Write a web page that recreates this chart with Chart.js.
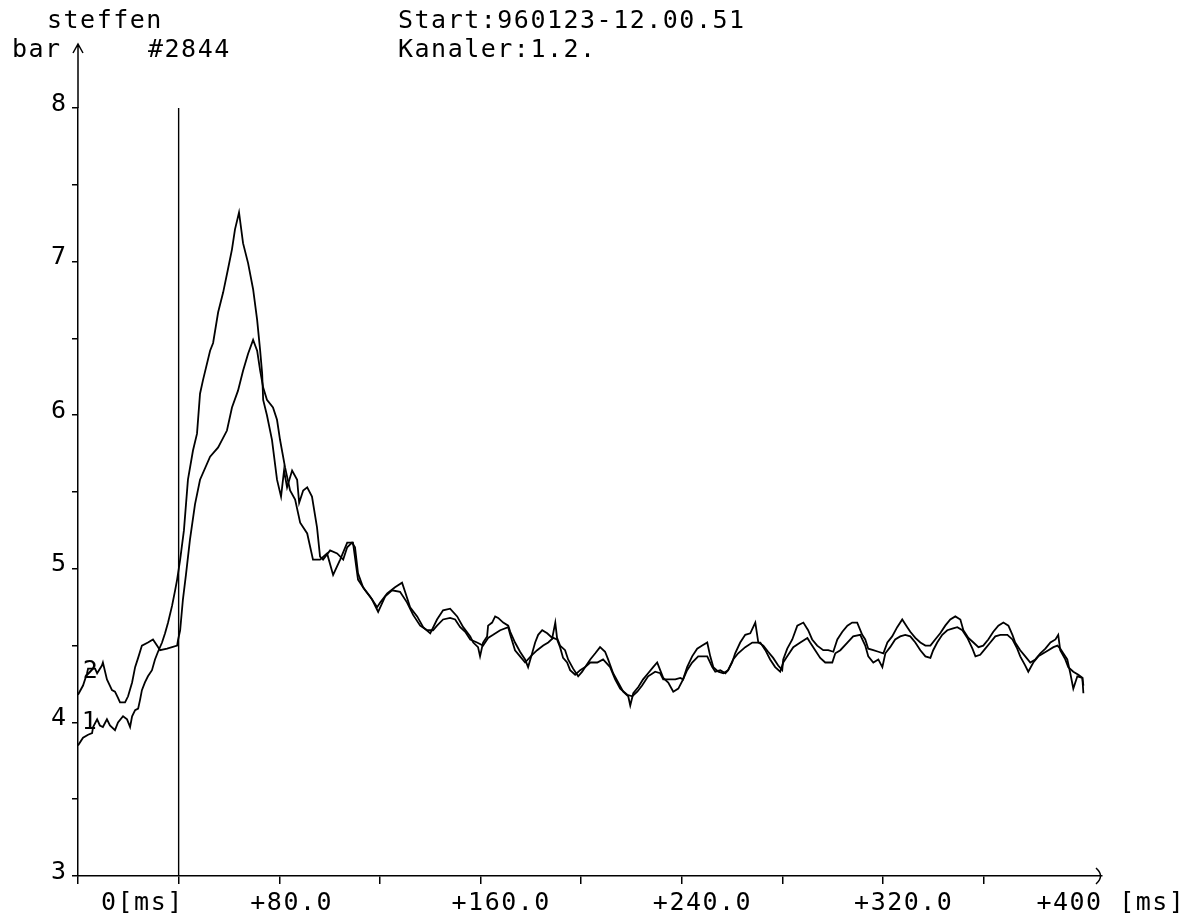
<!DOCTYPE html>
<html>
<head>
<meta charset="utf-8">
<script src="https://cdn.jsdelivr.net/npm/chart.js@4.4.1/dist/chart.umd.min.js"></script>
<style>
  html, body { margin: 0; padding: 0; background: #fff; }
  canvas { display: block; }
</style>
</head>
<body>
<canvas id="trace" width="1186" height="922"></canvas>
<script>
// header / annotation text
const userName = 'steffen';
const shotNo = '#2844';
const startText = 'Start:960123-12.00.51';
const channelText = 'Kanaler:1.2.';
const yUnit = 'bar';

// x axis: time in ms, labels only every 80 ms
const xLabelValues = [0, 80, 160, 240, 320, 400];
const xLabelTexts = ['0[ms]', '+80.0', '+160.0', '+240.0', '+320.0', '+400 [ms]'];
const cursorMs = 40;

// channel 1 (the one peaking at ~7.3 bar)
const ch1Time = [0, 2.0, 4.0, 5.6, 6.0, 7.6, 8.7, 9.9, 11.5, 12.7, 14.7, 15.9, 17.9, 19.5, 20.7, 21.5, 22.7, 23.9, 24.7, 25.4,
  26.6, 27.8, 29.4, 30.6, 31.8, 33.4, 34.6, 35.8, 37.4, 38.6, 39.4, 40.6, 42.1, 43.7, 45.7, 47.3, 48.5, 49.7, 52.5, 53.7,
  55.7, 57.7, 59.6, 61.2, 62.4, 64.0, 65.6, 67.6, 69.6, 71.2, 72.4, 73.2, 73.6, 75.1, 77.1, 79.1, 80.7, 81.9, 83.1, 85.1,
  87.1, 87.9, 89.5, 91.1, 93.0, 95.0, 96.2, 97.4, 100.2, 103.0, 105.4, 107.0, 108.9, 110.1, 111.3, 113.3, 116.1, 118.9, 120.1, 122.9,
  126.0, 128.8, 130.0, 132.0, 134.8, 137.2, 140.0, 142.7, 145.1, 147.9, 150.7, 153.1, 155.9, 157.1, 159.0, 159.8, 161.0, 162.6, 163.0, 164.6,
  165.8, 167.0, 169.0, 171.0, 171.8, 173.7, 175.7, 177.7, 178.9, 180.5, 181.7, 182.9, 184.5, 186.5, 188.5, 189.7, 190.4, 191.6, 193.6, 194.8,
  196.8, 198.8, 200.4, 201.6, 203.6, 205.6, 207.5, 209.5, 210.7, 212.7, 214.7, 216.7, 218.7, 219.5, 220.7, 222.7, 224.6, 226.6, 228.6, 230.2,
  231.4, 232.6, 234.6, 236.6, 238.6, 240.5, 242.1, 244.1, 246.1, 248.1, 250.1, 251.3, 252.5, 254.5, 256.5, 258.4, 260.0, 261.2, 263.2, 265.2,
  267.2, 269.2, 270.4, 272.4, 274.3, 276.3, 278.3, 279.9, 280.3, 281.9, 283.9, 285.9, 288.3, 290.2, 291.8, 293.8, 296.2, 298.2, 300.2, 301.8,
  303.8, 305.8, 307.7, 309.7, 311.7, 312.9, 314.1, 316.1, 318.1, 320.1, 321.7, 323.6, 325.6, 327.6, 329.6, 330.8, 332.8, 334.8, 336.8, 338.8,
  340.7, 342.7, 344.7, 346.7, 348.7, 350.7, 351.9, 353.9, 355.9, 357.9, 359.8, 361.8, 363.8, 365.8, 367.8, 369.8, 371.4, 372.5, 374.5, 376.5,
  378.5, 380.5, 382.5, 384.5, 386.5, 388.5, 389.6, 390.4, 392.4, 393.6, 395.6, 397.6, 399.2, 399.6];
const ch1Bar = [3.85, 3.90, 3.92, 3.93, 3.97, 4.02, 3.98, 3.97, 4.02, 3.98, 3.95, 4.00, 4.04, 4.02, 3.97, 4.04, 4.08, 4.09, 4.15, 4.21,
  4.26, 4.30, 4.34, 4.41, 4.46, 4.52, 4.58, 4.65, 4.76, 4.86, 4.93, 5.06, 5.25, 5.58, 5.77, 5.88, 6.14, 6.23, 6.42, 6.47,
  6.67, 6.80, 6.95, 7.08, 7.21, 7.32, 7.12, 6.99, 6.82, 6.62, 6.42, 6.27, 6.10, 6.00, 5.84, 5.58, 5.47, 5.64, 5.53, 5.64,
  5.58, 5.43, 5.51, 5.53, 5.47, 5.27, 5.08, 5.06, 5.12, 5.10, 5.06, 5.14, 5.17, 5.14, 4.97, 4.88, 4.82, 4.75, 4.78, 4.84,
  4.88, 4.91, 4.85, 4.75, 4.69, 4.62, 4.58, 4.67, 4.73, 4.74, 4.69, 4.62, 4.56, 4.52, 4.49, 4.43, 4.52, 4.56, 4.63, 4.65,
  4.69, 4.68, 4.65, 4.63, 4.59, 4.52, 4.46, 4.41, 4.36, 4.45, 4.52, 4.57, 4.60, 4.58, 4.55, 4.65, 4.55, 4.50, 4.47, 4.41,
  4.35, 4.30, 4.33, 4.36, 4.41, 4.45, 4.49, 4.46, 4.41, 4.32, 4.26, 4.20, 4.17, 4.11, 4.19, 4.23, 4.28, 4.32, 4.36, 4.39,
  4.34, 4.29, 4.26, 4.20, 4.22, 4.28, 4.36, 4.43, 4.48, 4.50, 4.52, 4.43, 4.36, 4.33, 4.32, 4.34, 4.39, 4.45, 4.52, 4.57,
  4.58, 4.65, 4.52, 4.50, 4.46, 4.42, 4.37, 4.34, 4.41, 4.48, 4.54, 4.63, 4.65, 4.60, 4.54, 4.50, 4.47, 4.47, 4.46, 4.54,
  4.59, 4.63, 4.65, 4.65, 4.57, 4.54, 4.48, 4.47, 4.46, 4.45, 4.52, 4.56, 4.62, 4.67, 4.62, 4.59, 4.55, 4.52, 4.50, 4.50,
  4.54, 4.58, 4.63, 4.67, 4.69, 4.67, 4.60, 4.55, 4.52, 4.49, 4.50, 4.54, 4.59, 4.63, 4.65, 4.63, 4.57, 4.52, 4.47, 4.43,
  4.39, 4.41, 4.45, 4.48, 4.52, 4.54, 4.57, 4.47, 4.41, 4.36, 4.33, 4.31, 4.29, 4.24];

// channel 2 (starts higher, peaks at ~6.5 bar)
const ch2Time = [0, 2.0, 3.6, 4.0, 6.8, 7.6, 9.5, 9.9, 11.5, 13.5, 14.7, 15.9, 16.7, 18.7, 19.9, 21.5, 22.7, 23.9, 25.4, 27.8,
  29.8, 31.4, 32.6, 35.4, 39.4, 39.8, 40.6, 41.7, 42.9, 44.5, 46.5, 48.5, 52.5, 55.7, 59.2, 61.2, 63.6, 65.6, 67.6, 69.6,
  71.2, 72.4, 73.6, 75.1, 77.5, 79.1, 80.3, 82.3, 84.3, 86.3, 88.3, 91.1, 93.4, 96.2, 99.0, 101.4, 104.2, 107.0, 109.3, 111.3,
  114.1, 116.9, 119.3, 122.1, 124.8, 128.0, 130.8, 133.2, 136.0, 138.8, 141.1, 142.7, 145.1, 147.9, 149.9, 151.9, 153.9, 155.9, 158.6, 161.0,
  163.0, 165.0, 167.8, 171.0, 171.8, 173.7, 175.7, 177.7, 180.5, 182.5, 184.9, 186.9, 188.9, 190.4, 191.6, 192.8, 194.4, 195.6, 197.6, 199.6,
  201.6, 203.6, 206.4, 208.7, 211.5, 213.5, 215.5, 218.3, 220.3, 222.3, 224.2, 226.6, 229.4, 231.4, 232.6, 234.6, 237.4, 239.4, 240.5, 242.1,
  244.1, 246.5, 250.1, 252.1, 253.3, 255.3, 257.3, 258.4, 260.4, 262.4, 265.2, 268.0, 270.0, 271.2, 273.2, 275.1, 277.1, 279.1, 280.3, 281.9,
  284.3, 287.1, 289.9, 291.0, 293.0, 295.0, 297.0, 299.8, 301.0, 303.0, 305.8, 308.1, 310.9, 312.9, 314.1, 316.1, 318.1, 319.7, 320.9, 322.8,
  324.8, 326.8, 328.8, 330.8, 332.8, 334.8, 336.8, 338.8, 339.9, 341.5, 343.5, 345.5, 347.5, 349.5, 351.5, 353.5, 355.5, 356.7, 358.6, 360.6,
  362.6, 364.6, 366.6, 369.4, 371.4, 373.3, 374.5, 376.5, 377.7, 379.7, 381.7, 383.7, 385.7, 387.7, 389.3, 390.4, 391.6, 393.2, 394.4, 395.6,
  397.2, 399.2, 399.6];
const ch2Bar = [4.18, 4.24, 4.32, 4.35, 4.35, 4.32, 4.37, 4.39, 4.28, 4.21, 4.20, 4.16, 4.13, 4.13, 4.17, 4.26, 4.36, 4.42, 4.50, 4.52,
  4.54, 4.50, 4.47, 4.48, 4.50, 4.54, 4.60, 4.80, 4.96, 5.19, 5.42, 5.58, 5.73, 5.79, 5.90, 6.05, 6.16, 6.29, 6.40, 6.49,
  6.42, 6.29, 6.18, 6.10, 6.05, 5.97, 5.84, 5.66, 5.51, 5.45, 5.30, 5.23, 5.06, 5.06, 5.10, 4.96, 5.06, 5.17, 5.17, 4.93,
  4.86, 4.80, 4.72, 4.82, 4.86, 4.85, 4.78, 4.70, 4.63, 4.60, 4.60, 4.63, 4.67, 4.68, 4.67, 4.62, 4.59, 4.54, 4.52, 4.50,
  4.55, 4.57, 4.60, 4.62, 4.57, 4.47, 4.43, 4.39, 4.44, 4.47, 4.50, 4.52, 4.55, 4.54, 4.49, 4.42, 4.39, 4.34, 4.31, 4.34,
  4.36, 4.39, 4.39, 4.41, 4.36, 4.28, 4.22, 4.18, 4.17, 4.20, 4.24, 4.30, 4.33, 4.32, 4.28, 4.28, 4.28, 4.29, 4.28, 4.34,
  4.39, 4.43, 4.43, 4.36, 4.33, 4.34, 4.32, 4.34, 4.41, 4.45, 4.49, 4.52, 4.52, 4.52, 4.47, 4.41, 4.36, 4.33, 4.39, 4.43,
  4.49, 4.52, 4.55, 4.52, 4.47, 4.42, 4.39, 4.39, 4.45, 4.47, 4.52, 4.56, 4.57, 4.50, 4.43, 4.39, 4.41, 4.36, 4.45, 4.49,
  4.54, 4.56, 4.57, 4.56, 4.52, 4.47, 4.43, 4.42, 4.47, 4.52, 4.57, 4.60, 4.61, 4.62, 4.60, 4.55, 4.48, 4.43, 4.44, 4.48,
  4.52, 4.56, 4.57, 4.57, 4.54, 4.48, 4.43, 4.37, 4.33, 4.39, 4.43, 4.45, 4.47, 4.49, 4.50, 4.48, 4.45, 4.41, 4.32, 4.22,
  4.30, 4.29, 4.19];

const FONT = '25px "DejaVu Sans Mono", monospace';

function toPoints(times, values) {
    return times.map((t, i) => ({ x: t, y: values[i] }));
}

// texts, arrows and x labels drawn on top, positioned from the scales
const overlay = {
    id: 'overlay',
    afterDraw(chart) {
        const ctx = chart.ctx;
        const xs = chart.scales.x;
        const ys = chart.scales.y;
        const left = chart.chartArea.left;
        const top = chart.chartArea.top;
        const bottom = chart.chartArea.bottom;
        const right = chart.chartArea.right;

        ctx.save();
        ctx.fillStyle = '#000';
        ctx.strokeStyle = '#000';
        ctx.lineWidth = 1.5;
        ctx.font = FONT;
        ctx.letterSpacing = '1.5px';
        ctx.textAlign = 'left';
        ctx.textBaseline = 'alphabetic';

        ctx.fillText(userName, 47, 28);
        ctx.fillText(startText, 398, 28);
        ctx.fillText(yUnit, 12, 57);
        ctx.fillText(shotNo, 148, 57);
        ctx.fillText(channelText, 398, 57);

        // y axis runs on above the top value, with a small arrow head
        const tipY = 44;
        ctx.beginPath();
        ctx.moveTo(left, top);
        ctx.lineTo(left, tipY);
        ctx.moveTo(left - 5, tipY + 9);
        ctx.lineTo(left, tipY);
        ctx.lineTo(left + 5, tipY + 9);
        ctx.stroke();

        // x axis arrow head
        ctx.beginPath();
        ctx.moveTo(right - 6, bottom - 8);
        ctx.quadraticCurveTo(right + 3, bottom, right - 6, bottom + 8);
        ctx.stroke();

        // x tick labels
        const shift = [23, -29, -29, -29, -29, -48];
        xLabelValues.forEach((v, i) => {
            ctx.fillText(xLabelTexts[i], xs.getPixelForValue(v) + shift[i], 910);
        });

        // channel numbers next to the start of each trace
        ctx.textAlign = 'center';
        ctx.textBaseline = 'middle';
        ctx.fillText('2', xs.getPixelForValue(5.2), ys.getPixelForValue(4.33));
        ctx.fillText('1', xs.getPixelForValue(4.8), ys.getPixelForValue(4.0));
        ctx.restore();
    }
};

const traceStyle = {
    borderColor: '#000',
    borderWidth: 1.8,
    pointRadius: 0,
    tension: 0,
    fill: false
};

new Chart(document.getElementById('trace'), {
    type: 'line',
    data: {
        datasets: [
            { label: 'Kanal 1', data: toPoints(ch1Time, ch1Bar), ...traceStyle },
            { label: 'Kanal 2', data: toPoints(ch2Time, ch2Bar), ...traceStyle },
            {
                label: 'cursor',
                data: [{ x: cursorMs, y: 3 }, { x: cursorMs, y: 8 }],
                ...traceStyle,
                borderWidth: 1.4
            }
        ]
    },
    options: {
        responsive: false,
        devicePixelRatio: 1,
        animation: false,
        layout: { padding: { top: 108, right: 84, left: 0, bottom: 0 } },
        plugins: {
            legend: { display: false },
            tooltip: { enabled: false }
        },
        scales: {
            x: {
                type: 'linear',
                min: 0,
                max: 407,
                afterBuildTicks: s => { s.ticks = s.ticks.filter(t => t.value <= 400); },
                afterFit: s => { s.height = 46; },
                ticks: { display: false, stepSize: 40 },
                grid: { drawOnChartArea: false, drawTicks: true, tickLength: 8, color: '#000', lineWidth: 1.5 },
                border: { display: true, color: '#000', width: 1.5 }
            },
            y: {
                type: 'linear',
                min: 3,
                max: 8,
                afterFit: s => { s.width = 78; },
                ticks: {
                    stepSize: 0.5,
                    color: '#000',
                    padding: 6,
                    labelOffset: -4,
                    font: { family: '"DejaVu Sans Mono", monospace', size: 25 },
                    callback: v => Number.isInteger(v) ? String(v) : ''
                },
                grid: { drawOnChartArea: false, drawTicks: true, tickLength: 6, color: '#000', lineWidth: 1.5 },
                border: { display: true, color: '#000', width: 1.5 }
            }
        }
    },
    plugins: [overlay]
});
</script>
</body>
</html>
